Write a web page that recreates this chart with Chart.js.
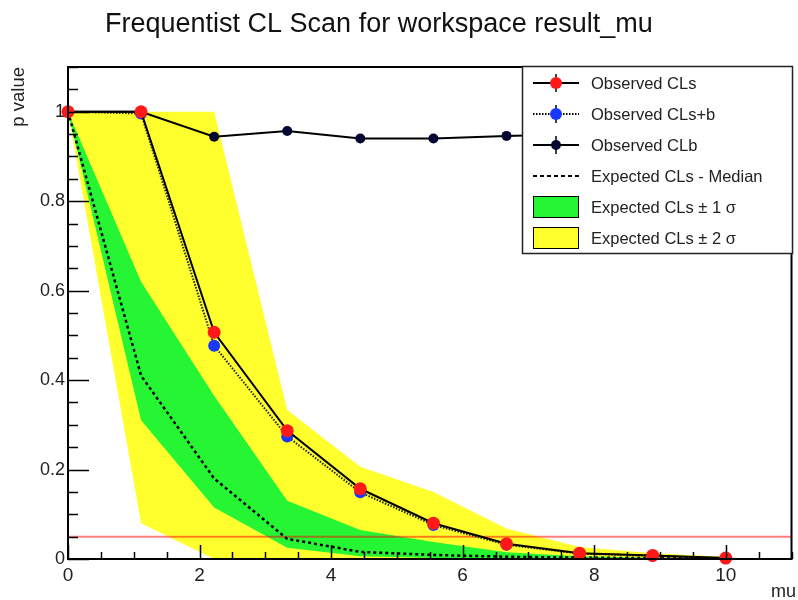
<!DOCTYPE html>
<html>
<head>
<meta charset="utf-8">
<script src="https://cdn.jsdelivr.net/npm/chart.js@4/dist/chart.umd.min.js"></script>
<style>
html,body{margin:0;padding:0;background:#fff;}
canvas{display:block;}
</style>
</head>
<body>
<canvas id="c" width="798" height="600"></canvas>
<script>
// ---- data ----
const mu          = [0, 1.111, 2.222, 3.333, 4.444, 5.556, 6.667, 7.778, 8.889, 10];
const obsCLs      = [1, 1, 0.507, 0.287, 0.157, 0.080, 0.034, 0.013, 0.008, 0.002];
const obsCLsb     = [1, 0.996, 0.477, 0.274, 0.149, 0.076, 0.032, 0.012, 0.007, 0.002];
const obsCLb      = [1, 1, 0.944, 0.957, 0.940, 0.940, 0.946, 0.950, 0.950, 0.955];
const expMedian   = [1, 0.41, 0.18, 0.045, 0.016, 0.009, 0.005, 0.003, 0.002, 0.001];
const exp1Hi      = [1, 0.62, 0.365, 0.13, 0.065, 0.038, 0.015, 0.006, 0.003, 0.001];
const exp1Lo      = [1, 0.31, 0.115, 0.025, 0.006, 0.002, 0.001, 0, 0, 0];
const exp2Hi      = [1, 1, 1, 0.333, 0.206, 0.150, 0.068, 0.027, 0.013, 0.005];
const exp2Lo      = [1, 0.08, 0, 0, 0, 0, 0, 0, 0, 0];
const clThreshold = 0.05;
const xRange      = [0, 11];
const yRange      = [0, 1.1];
const titleText   = 'Frequentist CL Scan for workspace result_mu';
const xTitle      = 'mu';
const yTitle      = 'p value';
const legendLabels = ['Observed CLs', 'Observed CLs+b', 'Observed CLb',
                      'Expected CLs - Median', 'Expected CLs \u00B1 1 \u03C3', 'Expected CLs \u00B1 2 \u03C3'];

const FONT = '"Liberation Sans", Arial, Helvetica, sans-serif';
const YELLOW = 'rgb(255,255,45)';
const GREEN  = 'rgb(38,245,52)';
const RED    = 'rgb(255,25,25)';
const BLUE   = 'rgb(25,55,255)';
const NAVY   = 'rgb(5,5,50)';

const pts = (ys) => mu.map((x, i) => ({x: x, y: ys[i]}));

const decorPlugin = {
  id: 'decor',
  afterDraw(chart) {
    const ctx = chart.ctx;
    const a = chart.chartArea;
    const xs = chart.scales.x, ys = chart.scales.y;
    ctx.save();
    // frame
    ctx.strokeStyle = '#000';
    ctx.lineWidth = 2;
    ctx.strokeRect(a.left, a.top, a.right - a.left, a.bottom - a.top);
    // y ticks (inward)
    ctx.lineWidth = 1.5;
    for (let k = 0; k * 0.05 <= yRange[1] + 1e-9; k++) {
      const v = k * 0.05;
      const py = Math.round(ys.getPixelForValue(v)) + 0.5;
      const len = (k % 4 === 0) ? 21 : 10;
      ctx.beginPath(); ctx.moveTo(a.left, py); ctx.lineTo(a.left + len, py); ctx.stroke();
    }
    // x ticks (inward)
    for (let k = 0; k * 0.5 <= xRange[1] + 1e-9; k++) {
      const v = k * 0.5;
      const px = Math.round(xs.getPixelForValue(v)) + 0.5;
      const len = (k % 4 === 0) ? 14 : 7;
      ctx.beginPath(); ctx.moveTo(px, a.bottom); ctx.lineTo(px, a.bottom - len); ctx.stroke();
    }
    // title
    ctx.fillStyle = '#111';
    ctx.font = '27px ' + FONT;
    ctx.textAlign = 'left';
    ctx.textBaseline = 'alphabetic';
    ctx.fillText(titleText, 105, 32);
    // axis titles
    ctx.fillStyle = '#222';
    ctx.font = '18px ' + FONT;
    ctx.textAlign = 'right';
    ctx.textBaseline = 'middle';
    ctx.fillText(xTitle, 796, 592);
    ctx.save();
    ctx.translate(19, a.top);
    ctx.rotate(-Math.PI / 2);
    ctx.font = '18.5px ' + FONT;
    ctx.textAlign = 'right';
    ctx.fillText(yTitle, 0, 0);
    ctx.restore();

    // legend box
    const L = 522, T = 66, R = 793, B = 254;
    ctx.fillStyle = '#fff';
    ctx.fillRect(L, T, R - L, B - T);
    ctx.strokeStyle = '#222';
    ctx.lineWidth = 1.5;
    ctx.strokeRect(L + 0.5, T + 0.5, R - L - 1, B - T - 1);
    const rowY = [83, 114, 145, 176, 207, 238];
    const sx0 = 533, sx1 = 579, sxc = 556;
    const markerRow = (y, color, dash, r) => {
      ctx.strokeStyle = '#000';
      ctx.lineWidth = 2;
      ctx.setLineDash(dash);
      ctx.beginPath(); ctx.moveTo(sx0, y); ctx.lineTo(sx1, y); ctx.stroke();
      ctx.setLineDash([]);
      ctx.lineWidth = 1.5;
      ctx.beginPath(); ctx.moveTo(sxc, y - 9); ctx.lineTo(sxc, y + 9); ctx.stroke();
      ctx.fillStyle = color;
      ctx.beginPath(); ctx.arc(sxc, y, r, 0, Math.PI * 2); ctx.fill();
    };
    markerRow(rowY[0], RED, [], 6);
    markerRow(rowY[1], BLUE, [1.5, 1.5], 6);
    markerRow(rowY[2], NAVY, [], 5);
    ctx.strokeStyle = '#000';
    ctx.lineWidth = 2;
    ctx.setLineDash([4, 3]);
    ctx.beginPath(); ctx.moveTo(sx0, rowY[3]); ctx.lineTo(sx1, rowY[3]); ctx.stroke();
    ctx.setLineDash([]);
    ctx.lineWidth = 1;
    ctx.fillStyle = GREEN;
    ctx.fillRect(sx0, rowY[4] - 11, sx1 - sx0, 22);
    ctx.strokeRect(sx0 + 0.5, rowY[4] - 11 + 0.5, sx1 - sx0 - 1, 21);
    ctx.fillStyle = YELLOW;
    ctx.fillRect(sx0, rowY[5] - 11, sx1 - sx0, 22);
    ctx.strokeRect(sx0 + 0.5, rowY[5] - 11 + 0.5, sx1 - sx0 - 1, 21);
    ctx.fillStyle = '#222';
    ctx.font = '16.5px ' + FONT;
    ctx.textAlign = 'left';
    ctx.textBaseline = 'middle';
    legendLabels.forEach((t, i) => ctx.fillText(t, 591, rowY[i] + 1));
    ctx.restore();
  }
};

new Chart(document.getElementById('c'), {
  type: 'line',
  data: {
    datasets: [
      {data: pts(exp2Hi), fill: '+1', backgroundColor: YELLOW, borderWidth: 0, pointRadius: 0, order: 10},
      {data: pts(exp2Lo), fill: false, borderWidth: 0, pointRadius: 0, order: 10},
      {data: pts(exp1Hi), fill: '+1', backgroundColor: GREEN, borderWidth: 0, pointRadius: 0, order: 9},
      {data: pts(exp1Lo), fill: false, borderWidth: 0, pointRadius: 0, order: 9},
      {data: [{x: xRange[0], y: clThreshold}, {x: xRange[1], y: clThreshold}], borderColor: 'rgba(255,0,0,0.5)', borderWidth: 2, pointRadius: 0, fill: false, order: 6},
      {data: pts(expMedian), borderColor: '#000', borderWidth: 2.5, borderDash: [3, 3], pointRadius: 0, fill: false, order: 5},
      {data: pts(obsCLb), clip: false, borderColor: '#000', borderWidth: 2, pointRadius: 5, pointBackgroundColor: NAVY, pointBorderColor: NAVY, pointBorderWidth: 0, fill: false, order: 3},
      {data: pts(obsCLsb), clip: false, borderColor: '#222', borderWidth: 2, borderDash: [1.5, 1.5], pointRadius: 6, pointBackgroundColor: BLUE, pointBorderColor: BLUE, pointBorderWidth: 0, fill: false, order: 2},
      {data: pts(obsCLs), clip: false, borderColor: '#000', borderWidth: 2, pointRadius: 6.5, pointBackgroundColor: RED, pointBorderColor: RED, pointBorderWidth: 0, fill: false, order: 1}
    ]
  },
  options: {
    responsive: false,
    animation: false,
    events: [],
    layout: {padding: {top: 67, right: 5, left: 0, bottom: 0}},
    plugins: {legend: {display: false}, tooltip: {enabled: false}, title: {display: false}},
    elements: {line: {tension: 0}},
    scales: {
      x: {
        type: 'linear', min: xRange[0], max: xRange[1],
        grid: {display: false, drawTicks: false},
        border: {display: false},
        ticks: {stepSize: 2, includeBounds: false, padding: 5, color: '#222', font: {family: FONT, size: 19},
                callback: (v) => String(v)},
        afterFit: (s) => { s.height = 41; }
      },
      y: {
        type: 'linear', min: yRange[0], max: yRange[1],
        grid: {display: false, drawTicks: false},
        border: {display: false},
        ticks: {stepSize: 0.2, includeBounds: false, padding: 3, color: '#222', font: {family: FONT, size: 18},
                callback: (v) => String(Math.round(v * 10) / 10)},
        afterFit: (s) => { s.height = s.height; s.width = 68; }
      }
    }
  },
  plugins: [decorPlugin]
});
</script>
</body>
</html>
